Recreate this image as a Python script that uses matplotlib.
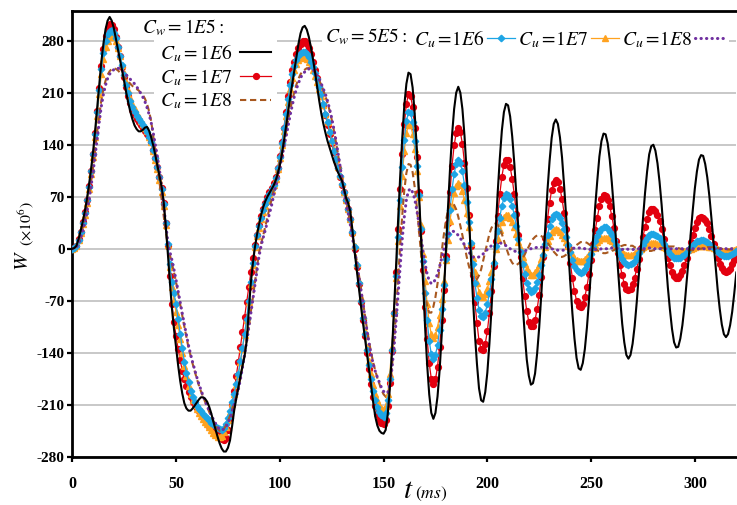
import numpy as np
import matplotlib
matplotlib.use("Agg")
import matplotlib.pyplot as plt

plt.rcParams['mathtext.fontset'] = 'stix'
plt.rcParams['axes.unicode_minus'] = False

# time axis, ms (1 ms sampling)
t_ms = np.arange(0, 321)

# deflection W (x1e6) for C_w = 1E5
w_cw1e5_cu1e6 = [
    0, 1, 4, 13, 24, 36, 50, 66, 85, 106,
    130, 159, 190, 222, 252, 276, 295, 307, 312, 307,
    297, 283, 268, 254, 240, 225, 210, 196, 184, 174,
    166, 161, 158, 158, 160, 163, 164, 159, 150, 139,
    126, 112, 98, 84, 64, 32, -5, -44, -80, -108,
    -133, -157, -178, -195, -208, -215, -218, -218, -215, -211,
    -207, -203, -200, -200, -202, -206, -213, -222, -233, -243,
    -253, -262, -269, -273, -273, -268, -258, -239, -218, -202,
    -187, -172, -158, -145, -125, -87, -47, -20, 2, 19,
    33, 46, 56, 64, 70, 75, 80, 85, 92, 101,
    112, 127, 145, 165, 185, 204, 222, 240, 258, 276,
    290, 298, 300, 295, 285, 271, 255, 237, 218, 199,
    182, 168, 156, 145, 136, 127, 118, 110, 103, 97,
    91, 80, 68, 61, 50, 25, -3, -27, -50, -74,
    -98, -120, -141, -163, -184, -207, -226, -238, -245, -248,
    -249, -244, -223, -189, -142, -84, -25, 38, 97, 149,
    193, 222, 237, 235, 217, 182, 136, 79, 17, -46,
    -105, -156, -196, -221, -229, -221, -199, -164, -117, -64,
    -5, 53, 106, 153, 188, 210, 218, 210, 188, 152,
    105, 51, -6, -63, -114, -155, -188, -204, -206, -193,
    -167, -128, -82, -30, 24, 76, 121, 159, 184, 195,
    193, 178, 151, 115, 72, 23, -26, -73, -114, -149,
    -171, -183, -181, -168, -141, -106, -62, -15, 34, 79,
    118, 149, 168, 174, 168, 150, 123, 85, 43, -2,
    -46, -87, -121, -147, -161, -163, -154, -135, -106, -69,
    -28, 15, 57, 92, 124, 145, 155, 154, 142, 120,
    89, 53, 12, -29, -67, -101, -126, -143, -148, -143,
    -128, -104, -72, -36, 2, 40, 75, 104, 127, 138,
    140, 132, 115, 90, 59, 22, -15, -52, -82, -108,
    -126, -133, -132, -121, -103, -78, -46, -14, 20, 52,
    81, 104, 120, 126, 125, 114, 96, 71, 41, 9,
    -24, -55, -81, -102, -115, -119, -115, -103, -85, -60,
    -32]

w_cw1e5_cu1e7 = [
    0, 1, 4, 13, 23, 36, 50, 66, 84, 105,
    128, 156, 186, 217, 246, 269, 287, 297, 302, 301,
    296, 285, 272, 259, 245, 231, 218, 206, 196, 187,
    180, 174, 170, 166, 162, 159, 155, 150, 143, 133,
    122, 110, 97, 82, 62, 35, 3, -37, -75, -99,
    -118, -135, -150, -164, -176, -185, -193, -200, -207, -211,
    -215, -219, -222, -226, -230, -234, -238, -241, -244, -247,
    -250, -253, -256, -258, -255, -244, -228, -211, -192, -172,
    -152, -132, -112, -92, -72, -52, -32, -13, 5, 19,
    32, 44, 54, 62, 69, 76, 82, 88, 96, 109,
    125, 143, 163, 184, 205, 224, 240, 252, 262, 270,
    276, 279, 279, 276, 270, 262, 252, 241, 230, 219,
    208, 194, 180, 167, 155, 142, 130, 119, 108, 97,
    86, 76, 65, 54, 40, 21, 0, -24, -48, -72,
    -96, -118, -140, -162, -182, -199, -212, -223, -230, -234,
    -236, -231, -212, -181, -138, -86, -31, 26, 80, 128,
    168, 195, 208, 206, 191, 162, 123, 76, 24, -29,
    -78, -121, -154, -175, -182, -176, -159, -132, -96, -55,
    -10, 35, 76, 112, 139, 156, 162, 157, 141, 115,
    82, 45, 4, -35, -72, -100, -124, -135, -136, -128,
    -111, -87, -57, -23, 11, 44, 73, 97, 113, 120,
    119, 110, 94, 73, 47, 18, -11, -39, -63, -84,
    -98, -104, -104, -96, -81, -62, -38, -11, 15, 40,
    62, 79, 89, 93, 90, 81, 67, 48, 27, 4,
    -19, -40, -57, -70, -77, -79, -74, -65, -51, -34,
    -15, 6, 25, 42, 57, 67, 72, 71, 66, 57,
    44, 28, 11, -6, -22, -36, -47, -54, -56, -54,
    -48, -39, -27, -14, 1, 16, 29, 40, 49, 53,
    54, 51, 45, 37, 26, 13, 1, -12, -22, -31,
    -37, -40, -39, -36, -30, -22, -12, -2, 9, 19,
    28, 36, 41, 43, 42, 39, 34, 26, 17, 7,
    -2, -12, -20, -26, -30, -31, -30, -27, -21, -15,
    -7]

w_cw1e5_cu1e8 = [
    0, 1, 3, 9, 17, 28, 40, 55, 70, 89,
    110, 134, 158, 180, 200, 215, 226, 234, 239, 242,
    243, 242, 240, 237, 234, 231, 228, 225, 222, 219,
    217, 215, 213, 210, 207, 202, 195, 185, 172, 152,
    130, 110, 90, 67, 45, 24, 5, -8, -20, -32,
    -45, -60, -75, -90, -105, -119, -133, -144, -155, -165,
    -175, -184, -192, -199, -206, -213, -220, -226, -232, -238,
    -242, -245, -245, -243, -238, -232, -225, -217, -208, -199,
    -188, -174, -158, -141, -123, -105, -86, -66, -45, -25,
    -5, 7, 18, 30, 42, 54, 66, 79, 93, 105,
    118, 131, 145, 159, 173, 187, 200, 211, 221, 229,
    235, 239, 241, 243, 243, 242, 240, 237, 232, 227,
    220, 213, 205, 196, 186, 174, 160, 144, 128, 111,
    94, 79, 64, 49, 34, 18, 2, -15, -33, -51,
    -70, -89, -108, -125, -140, -153, -164, -174, -182, -190,
    -196, -199, -198, -186, -161, -126, -85, -40, 4, 45,
    79, 102, 114, 113, 103, 83, 57, 27, -5, -35,
    -60, -77, -86, -86, -78, -65, -47, -26, -4, 18,
    37, 51, 60, 62, 59, 53, 43, 31, 18, 4,
    -10, -22, -32, -39, -42, -41, -36, -28, -16, -4,
    8, 20, 28, 33, 34, 32, 27, 20, 11, 2,
    -6, -14, -19, -22, -22, -20, -17, -13, -8, -2,
    3, 9, 13, 16, 18, 18, 17, 15, 12, 8,
    4, 0, -4, -7, -10, -11, -11, -10, -8, -6,
    -3, 0, 3, 5, 7, 9, 9, 9, 8, 6,
    4, 2, 0, -2, -4, -5, -6, -6, -5, -5,
    -3, -2, 0, 2, 3, 4, 5, 5, 5, 4,
    4, 2, 1, 0, -1, -2, -3, -3, -3, -3,
    -2, -2, -1, 0, 1, 1, 2, 3, 3, 3,
    3, 2, 1, 0, -1, -1, -2, -2, -2, -2,
    -1, -1, 0, 0, 1, 1, 2, 2, 2, 2,
    1, 1, 0, 0, -1, -1, -1, -1, -1, -1,
    0]

# deflection W (x1e6) for C_w = 5E5
w_cw5e5_cu1e6 = [
    0, 1, 4, 12, 22, 34, 48, 65, 83, 104,
    127, 155, 184, 214, 242, 264, 280, 289, 293, 294,
    291, 283, 272, 260, 247, 234, 221, 209, 199, 191,
    184, 178, 174, 170, 166, 162, 157, 151, 143, 133,
    122, 110, 96, 80, 60, 34, 6, -21, -45, -60,
    -75, -95, -115, -134, -152, -167, -180, -191, -200, -207,
    -212, -216, -219, -222, -225, -228, -231, -234, -236, -239,
    -241, -243, -244, -241, -236, -228, -218, -207, -195, -182,
    -168, -151, -133, -115, -95, -71, -45, -19, 4, 19,
    30, 42, 52, 60, 67, 74, 80, 86, 95, 108,
    124, 142, 162, 182, 202, 220, 235, 246, 254, 260,
    263, 265, 265, 262, 258, 252, 245, 237, 228, 218,
    208, 195, 182, 170, 157, 145, 132, 121, 109, 98,
    87, 77, 66, 54, 40, 22, 2, -22, -46, -70,
    -93, -115, -137, -157, -176, -191, -203, -213, -220, -224,
    -226, -221, -204, -175, -136, -87, -37, 16, 66, 110,
    147, 172, 184, 183, 170, 145, 112, 72, 27, -17,
    -59, -96, -124, -142, -148, -143, -130, -109, -81, -49,
    -14, 20, 52, 80, 101, 114, 119, 115, 104, 86,
    63, 36, 8, -20, -46, -66, -83, -91, -92, -86,
    -75, -60, -41, -19, 3, 24, 42, 58, 68, 73,
    72, 67, 58, 45, 30, 13, -4, -20, -34, -46,
    -54, -58, -57, -53, -45, -35, -22, -8, 6, 19,
    31, 40, 45, 47, 46, 41, 35, 26, 16, 5,
    -5, -15, -23, -29, -32, -33, -31, -27, -22, -15,
    -7, 2, 10, 17, 23, 27, 29, 29, 27, 23,
    18, 12, 5, -2, -8, -14, -18, -21, -22, -21,
    -19, -16, -11, -6, 0, 5, 10, 15, 18, 20,
    20, 19, 17, 14, 10, 6, 1, -3, -7, -10,
    -12, -13, -13, -12, -10, -8, -5, -1, 2, 5,
    8, 10, 11, 12, 12, 11, 9, 7, 4, 1,
    -2, -4, -7, -8, -10, -10, -10, -9, -7, -6,
    -3]

w_cw5e5_cu1e7 = [
    0, 1, 4, 12, 21, 33, 46, 62, 80, 101,
    123, 150, 179, 208, 235, 256, 271, 280, 285, 287,
    285, 279, 270, 259, 247, 236, 224, 213, 203, 195,
    188, 182, 177, 172, 168, 163, 158, 151, 143, 132,
    120, 107, 93, 77, 57, 32, 5, -25, -52, -70,
    -85, -103, -122, -140, -158, -172, -185, -195, -204, -210,
    -216, -221, -225, -229, -233, -236, -240, -244, -248, -251,
    -254, -254, -252, -247, -240, -230, -220, -208, -196, -183,
    -170, -153, -135, -116, -96, -72, -48, -22, 2, 17,
    28, 40, 50, 58, 66, 73, 79, 86, 94, 107,
    122, 139, 158, 178, 198, 215, 230, 241, 249, 254,
    257, 258, 258, 256, 252, 247, 240, 233, 224, 215,
    206, 194, 182, 170, 158, 145, 133, 121, 110, 99,
    88, 77, 66, 54, 40, 22, 3, -20, -44, -67,
    -90, -111, -132, -151, -168, -183, -195, -204, -210, -214,
    -216, -212, -196, -168, -132, -86, -39, 10, 57, 98,
    132, 156, 167, 166, 155, 134, 105, 70, 32, -7,
    -43, -75, -100, -115, -120, -116, -106, -89, -68, -43,
    -15, 12, 37, 58, 75, 85, 89, 86, 78, 65,
    48, 29, 8, -13, -31, -46, -58, -64, -65, -61,
    -54, -43, -31, -16, -1, 13, 25, 36, 43, 46,
    45, 42, 36, 29, 20, 9, -1, -11, -20, -27,
    -32, -35, -35, -32, -28, -22, -14, -6, 2, 10,
    17, 22, 25, 26, 25, 23, 19, 15, 9, 4,
    -2, -7, -12, -15, -17, -17, -16, -14, -11, -7,
    -3, 1, 5, 9, 12, 14, 15, 15, 14, 12,
    10, 7, 4, 0, -3, -5, -7, -9, -9, -9,
    -8, -6, -5, -2, 0, 2, 4, 6, 7, 8,
    8, 8, 7, 6, 4, 2, 1, -1, -3, -4,
    -5, -5, -5, -5, -4, -3, -2, -1, 0, 1,
    2, 3, 4, 4, 4, 4, 3, 2, 2, 1,
    0, -1, -2, -3, -3, -3, -3, -3, -2, -2,
    -1]

w_cw5e5_cu1e8 = [
    0, 1, 2, 7, 14, 24, 35, 49, 64, 83,
    103, 125, 148, 171, 192, 208, 220, 229, 235, 239,
    241, 243, 243, 242, 240, 237, 234, 231, 228, 225,
    222, 218, 214, 209, 204, 198, 190, 181, 170, 156,
    140, 124, 106, 84, 60, 34, 10, -4, -15, -28,
    -42, -57, -72, -87, -102, -116, -130, -142, -153, -163,
    -173, -182, -190, -198, -205, -212, -218, -224, -230, -235,
    -240, -243, -244, -243, -240, -235, -228, -220, -210, -200,
    -190, -176, -160, -143, -125, -107, -88, -69, -50, -30,
    -10, 4, 15, 25, 36, 47, 58, 71, 84, 97,
    110, 123, 137, 151, 165, 180, 193, 205, 215, 223,
    230, 235, 238, 241, 242, 242, 241, 238, 233, 228,
    222, 215, 208, 199, 188, 176, 162, 147, 130, 112,
    93, 77, 62, 47, 32, 15, -2, -19, -36, -54,
    -72, -91, -110, -127, -142, -155, -165, -173, -180, -187,
    -192, -194, -194, -183, -162, -134, -99, -61, -22, 13,
    43, 66, 78, 81, 76, 67, 52, 35, 16, -3,
    -20, -34, -43, -47, -46, -41, -34, -24, -13, -1,
    9, 17, 22, 24, 23, 21, 18, 14, 10, 5,
    0, -4, -8, -11, -12, -12, -11, -9, -7, -4,
    -1, 2, 4, 6, 8, 8, 8, 7, 6, 4,
    2, 0, -2, -3, -4, -4, -4, -3, -3, -2,
    -1, 0, 1, 1, 2, 2, 2, 2, 1, 1,
    0, 0, -1, -1, -2, -2, -2, -2, -1, -1,
    0, 0, 1, 1, 1, 1, 1, 0, 0, -1,
    -1, -1, -1, -1, -1, 0, 0, 0, 0, 1,
    1, 1, 1, 0, 0, -1, 0, 0, -1, -1,
    -1, -1, 0, 0, 0, 0, 0, 0, 1, 1,
    0, 0, 0, 0, 0, -1, 0, 0, 0, 0,
    0, 0, 0, 0, 0, 0, 0, 0, 0, 0,
    0, 0, 0, 0, 0, 0, 0, 0, 0, 0,
    0, 0, 0, 0, 0, 0, 0, 0, 0, 0,
    0]

y_ticks = [-280, -210, -140, -70, 0, 70, 140, 210, 280]
x_ticks = [0, 50, 100, 150, 200, 250, 300]

for series in (w_cw1e5_cu1e6, w_cw1e5_cu1e7, w_cw1e5_cu1e8,
               w_cw5e5_cu1e6, w_cw5e5_cu1e7, w_cw5e5_cu1e8):
    assert len(series) == len(t_ms), (len(series), len(t_ms))

fig = plt.figure(figsize=(7.37, 5.05), dpi=100)
ax = fig.add_axes([0.0981, 0.0956, 0.9010, 0.8826])

h_red, = ax.plot(t_ms, w_cw1e5_cu1e7, color='#E3000F', lw=0.9, marker='o',
                 ms=4.2, mec='#E3000F', zorder=3)
h_orange, = ax.plot(t_ms, w_cw5e5_cu1e7, color='#FFA21F', lw=0.9, marker='^',
                    ms=4.2, mec='#FFA21F', zorder=4)
h_blue, = ax.plot(t_ms, w_cw5e5_cu1e6, color='#1DA5E5', lw=0.9, marker='D',
                  ms=3.3, mec='#1DA5E5', zorder=5)
h_brown, = ax.plot(t_ms, w_cw1e5_cu1e8, color='#A8581F', lw=1.5,
                   linestyle=(0, (3, 1.8)), zorder=6)
h_purple, = ax.plot(t_ms, w_cw5e5_cu1e8, color='#7030A0', lw=2.2,
                    linestyle=(0, (0.1, 1.7)), dash_capstyle='round', zorder=7)
h_black, = ax.plot(t_ms, w_cw1e5_cu1e6, color='black', lw=1.5, zorder=8)

ax.set_xlim(0, 320)
ax.set_ylim(-280, 320)
ax.set_xticks(x_ticks)
ax.set_yticks(y_ticks)
ax.yaxis.grid(True, color='#BFBFBF', lw=1.2)
ax.set_axisbelow(True)

for side in ('left', 'bottom', 'top'):
    ax.spines[side].set_linewidth(2.0)
ax.spines['right'].set_visible(False)

ax.tick_params(axis='x', direction='out', length=3.6, width=1.6, pad=10.5)
ax.tick_params(axis='y', direction='out', length=3.6, width=1.6, pad=2.0)
for lab in ax.get_xticklabels():
    lab.set_fontfamily('Liberation Serif')
    lab.set_fontweight('bold')
    lab.set_fontsize(11.5)
for lab in ax.get_yticklabels():
    lab.set_fontfamily('Liberation Serif')
    lab.set_fontweight('bold')
    lab.set_fontsize(11)

# legend block for C_w = 1E5
ax.text(0.105, 0.951, r'$C_w = 1E5{:}$', transform=ax.transAxes, fontsize=14,
        va='baseline', ha='left', zorder=10,
        bbox=dict(fc='white', ec='none', pad=2))
leg1 = ax.legend([h_black, h_red, h_brown],
                 [r'$C_u = 1E6$', r'$C_u = 1E7$', r'$C_u = 1E8$'],
                 loc='upper left', bbox_to_anchor=(0.123, 0.943),
                 markerfirst=False, fontsize=14, handlelength=1.6,
                 handletextpad=0.4, labelspacing=0.15, borderpad=0.3,
                 borderaxespad=0, frameon=True, fancybox=False, framealpha=1,
                 edgecolor='none', facecolor='white')
leg1.set_zorder(10)
ax.add_artist(leg1)

# legend row for C_w = 5E5
ax.text(0.3806, 0.9305, r'$C_w = 5E5{:}$', transform=ax.transAxes, fontsize=14,
        va='baseline', ha='left', zorder=10,
        bbox=dict(fc='white', ec='none', pad=2))
leg2 = ax.legend([h_blue, h_orange, h_purple],
                 [r'$C_u =\! 1E6$', r'$C_u =\! 1E7$', r'$C_u =\! 1E8$'],
                 loc='upper left', bbox_to_anchor=(0.5056, 0.975), ncol=3,
                 markerfirst=False, fontsize=14, handlelength=1.45,
                 handletextpad=0.15, columnspacing=0.15, borderpad=0.3,
                 borderaxespad=0, frameon=True, fancybox=False, framealpha=1,
                 edgecolor='none', facecolor='white')
leg2.set_zorder(10)

# axis titles
fig.text(408 / 737, 1 - 498 / 505, r'$t$', fontsize=21, ha='center', va='baseline')
fig.text(415 / 737, 1 - 498 / 505, r'$(ms)$', fontsize=12.5, ha='left', va='baseline')
fig.text(21.5 / 737, 1 - 261 / 505, r'$W$', fontsize=15, rotation=90,
         ha='center', va='center')
fig.text(26 / 737, 1 - 224 / 505, r'$(\times10^{6})$', fontsize=11.5, rotation=90,
         ha='center', va='center')

fig.savefig('out.png', dpi=100)
